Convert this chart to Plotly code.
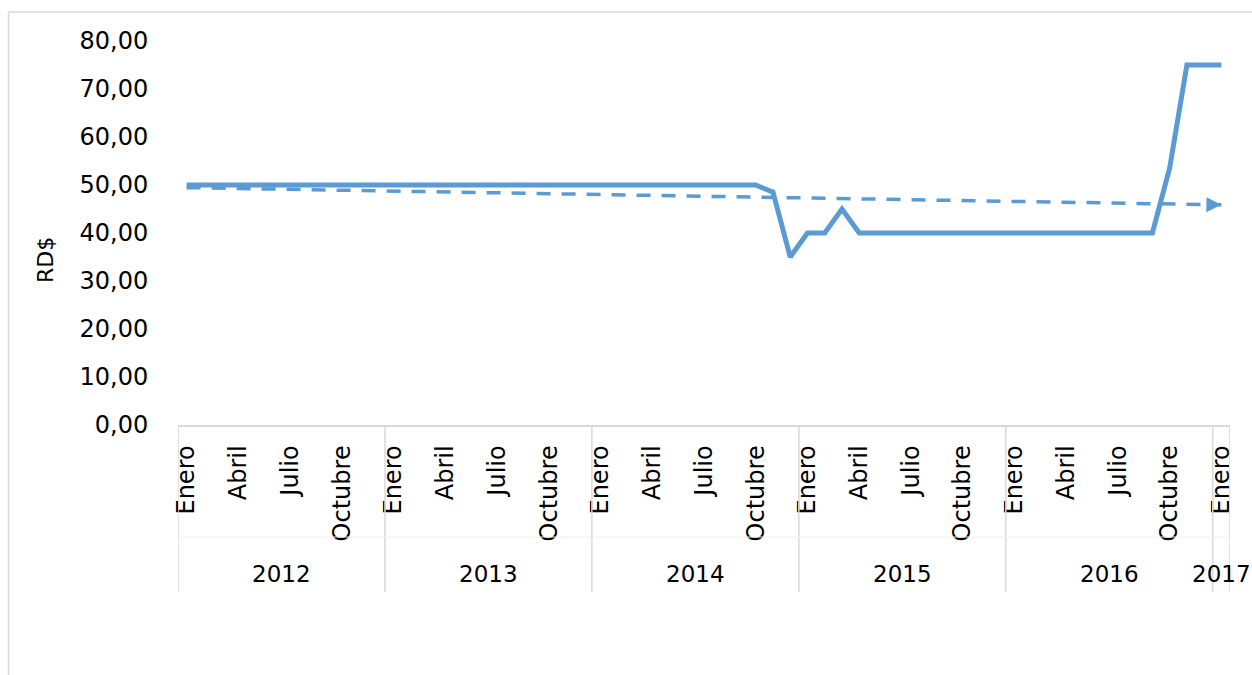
import numpy as np
import plotly.graph_objects as go

years = ["2012", "2013", "2014", "2015", "2016", "2017"]
month_names = ["Enero", "Febrero", "Marzo", "Abril", "Mayo", "Junio", "Julio",
               "Agosto", "Septiembre", "Octubre", "Noviembre", "Diciembre"]
shown_months = ["Enero", "Abril", "Julio", "Octubre"]

# Monthly price RD$, Jan 2012 .. Jan 2017 (61 values)
prices = ([50.0] * 34 +                      # Ene 2012 - Oct 2014
          [48.5, 35.0, 40.0, 40.0, 45.0] +   # Nov 2014 - Mar 2015
          [40.0] * 18 +                      # Abr 2015 - Sep 2016
          [53.5, 75.0, 75.0, 75.0])          # Oct 2016 - Ene 2017

n = len(prices)
idx = list(range(n))
labels = [f"{month_names[i % 12]} {years[i // 12]}" for i in idx]

# linear trend (as Excel trendline)
slope, intercept = np.polyfit(idx, prices, 1)
trend = [intercept + slope * i for i in idx]

COLOR = "#5B9BD5"
FONT = "DejaVu Sans"
GRID = "#d9d9d9"

fig = go.Figure()
fig.add_trace(go.Scatter(x=idx, y=prices, mode="lines",
                         line=dict(color=COLOR, width=5),
                         text=labels, hoverinfo="text+y", showlegend=False))
fig.add_trace(go.Scatter(x=idx, y=trend, mode="lines",
                         line=dict(color=COLOR, width=3.5, dash="14px,11px"),
                         hoverinfo="skip", showlegend=False))

# arrow head at the end of the trend line
fig.add_annotation(x=idx[-1], y=trend[-1], ax=idx[-1] - 0.5, ay=trend[-1] - slope * 0.5,
                   xref="x", yref="y", axref="x", ayref="y", text="",
                   showarrow=True, arrowhead=2, arrowsize=1.0, arrowwidth=3,
                   arrowcolor=COLOR)

tickvals = [i for i in idx if month_names[i % 12] in shown_months]
ticktext = [month_names[i % 12] for i in tickvals]

L, R, T, B = 178, 22, 41, 250
W, H = 1252, 675
pw, ph = W - L - R, H - T - B

def px_to_paper_x(px):
    return (px - L) / pw

def px_to_paper_y(py):
    return (H - B - py) / ph

# year labels
for k, yname in enumerate(years):
    first = k * 12
    last = min(first + 11, n - 1)
    fig.add_annotation(x=(first + last) / 2, y=px_to_paper_y(574), xref="x", yref="paper",
                       text=yname, showarrow=False, xanchor="center", yanchor="middle",
                       font=dict(family=FONT, size=23, color="#000000"))

# year separators
shapes = []
bounds = [k * 12 - 0.5 for k in range(len(years))] + [n - 0.5]
for b in bounds:
    shapes.append(dict(type="line", xref="x", yref="paper", x0=b, x1=b,
                       y0=0, y1=px_to_paper_y(592), line=dict(color=GRID, width=1.5)))
shapes.append(dict(type="line", xref="paper", yref="paper", x0=0, x1=1,
                   y0=px_to_paper_y(537), y1=px_to_paper_y(537),
                   line=dict(color="#f0f0f0", width=1)))
# chart area border
shapes.append(dict(type="line", xref="paper", yref="paper",
                   x0=px_to_paper_x(8.5), x1=px_to_paper_x(8.5),
                   y0=px_to_paper_y(700), y1=px_to_paper_y(12),
                   line=dict(color=GRID, width=1.5)))
shapes.append(dict(type="line", xref="paper", yref="paper",
                   x0=px_to_paper_x(8.5), x1=px_to_paper_x(1300),
                   y0=px_to_paper_y(12), y1=px_to_paper_y(12),
                   line=dict(color=GRID, width=1.5)))

fig.add_annotation(x=px_to_paper_x(45), y=px_to_paper_y(260), xref="paper", yref="paper",
                   text="RD$", textangle=-90, showarrow=False,
                   xanchor="center", yanchor="middle",
                   font=dict(family=FONT, size=22, color="#000000"))

fig.update_layout(
    width=W, height=H,
    margin=dict(l=L, r=R, t=T, b=B),
    paper_bgcolor="white", plot_bgcolor="white",
    separators=",.",
    font=dict(family=FONT, size=24, color="#000000"),
    shapes=shapes,
    xaxis=dict(range=[-0.5, n - 0.5], tickmode="array", tickvals=tickvals,
               ticktext=ticktext, tickangle=-90, showgrid=False, zeroline=False,
               showline=True, linecolor=GRID, linewidth=1.5,
               ticks="outside", ticklen=9, tickcolor="rgba(0,0,0,0)",
               tickfont=dict(family=FONT, size=24, color="#000000")),
    yaxis=dict(range=[0, 80], dtick=10, tickformat=".2f", showgrid=False,
               zeroline=False, showline=False,
               ticks="outside", ticklen=24, tickcolor="rgba(0,0,0,0)",
               tickfont=dict(family=FONT, size=24, color="#000000")),
)

fig.write_html("out.html", config={"displayModeBar": False},
               post_script="document.body.style.margin='0px';document.body.style.overflow='hidden';")
